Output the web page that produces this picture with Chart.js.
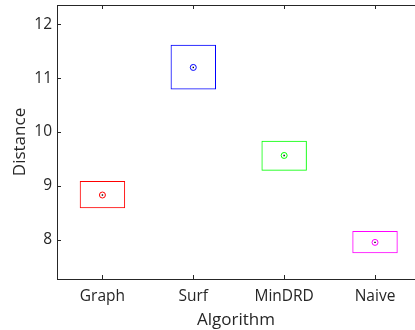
<!DOCTYPE html>
<html>
<head>
<meta charset="utf-8">
<script src="https://cdn.jsdelivr.net/npm/chart.js@4/dist/chart.umd.min.js"></script>
<style>
  html, body { margin: 0; padding: 0; background: #fff; overflow: hidden; }
  #wrap { width: 415px; height: 330px; overflow: hidden; }
</style>
</head>
<body>
<div id="wrap"><canvas id="chart" width="420" height="330"></canvas></div>
<script>
// values
const categories = ['Graph', 'Surf', 'MinDRD', 'Naive'];
const boxLow = [8.585, 10.79, 9.28, 7.75];
const boxHigh = [9.09, 11.62, 9.84, 8.16];
const medians = [8.83, 11.2, 9.565, 7.95];
const colors = ['#ff0000', '#0000ff', '#00ff00', '#ff00ff'];
const yTicks = [8, 9, 10, 11, 12];

const axisColor = '#262626';
const fontFamily = '"Open Sans", "Liberation Sans", Arial, sans-serif';

// MATLAB style: ticks point into the plot, plus a top border line
const inwardTicks = {
    id: 'inwardTicks',
    afterDraw(chart) {
        const { ctx, chartArea, scales } = chart;
        const len = 4;
        ctx.save();
        ctx.strokeStyle = axisColor;
        ctx.lineWidth = 1;
        ctx.beginPath();
        ctx.moveTo(chartArea.left, chartArea.top + 0.5);
        ctx.lineTo(chartArea.right, chartArea.top + 0.5);
        scales.x.ticks.forEach(t => {
            const px = Math.round(scales.x.getPixelForValue(t.value)) + 0.5;
            ctx.moveTo(px, chartArea.bottom);
            ctx.lineTo(px, chartArea.bottom - len);
            ctx.moveTo(px, chartArea.top);
            ctx.lineTo(px, chartArea.top + len);
        });
        scales.y.ticks.forEach(t => {
            const py = Math.round(scales.y.getPixelForValue(t.value)) + 0.5;
            ctx.moveTo(chartArea.left, py);
            ctx.lineTo(chartArea.left + len, py);
        });
        ctx.stroke();
        ctx.restore();
    }
};

const ctx = document.getElementById('chart').getContext('2d');
new Chart(ctx, {
    type: 'bar',
    data: {
        datasets: [
            {
                type: 'bar',
                order: 2,
                data: categories.map((c, i) => ({ x: i + 1, y: [boxLow[i], boxHigh[i]] })),
                backgroundColor: 'rgba(0,0,0,0)',
                borderColor: colors,
                borderWidth: 1,
                borderSkipped: false,
                categoryPercentage: 1,
                barPercentage: 0.5
            },
            {
                type: 'scatter',
                order: 1,
                data: categories.map((c, i) => ({ x: i + 1, y: medians[i] })),
                pointStyle: 'circle',
                pointRadius: 3,
                borderColor: colors,
                backgroundColor: '#ffffff',
                borderWidth: 1
            },
            {
                type: 'scatter',
                order: 0,
                data: categories.map((c, i) => ({ x: i + 1, y: medians[i] })),
                pointStyle: 'rect',
                pointRadius: 1,
                borderWidth: 0,
                backgroundColor: '#000000'
            }
        ]
    },
    options: {
        responsive: false,
        animation: false,
        devicePixelRatio: 1,
        layout: { padding: { top: 5, right: 0, left: 0, bottom: 0 } },
        plugins: {
            legend: { display: false },
            tooltip: { enabled: false }
        },
        scales: {
            x: {
                type: 'linear',
                offset: false,
                min: 0.5,
                max: 4.44,
                afterBuildTicks: s => { s.ticks = categories.map((c, i) => ({ value: i + 1 })); },
                afterFit: s => { s.height = 51; s.paddingLeft = 0; s.paddingRight = 0; },
                grid: { display: true, drawOnChartArea: false, drawTicks: false, offset: false },
                border: { display: true, color: axisColor, width: 1 },
                ticks: {
                    padding: 8,
                    color: axisColor,
                    font: { family: fontFamily, size: 15.5 },
                    maxRotation: 0,
                    callback: v => categories[Math.round(v) - 1]
                },
                title: {
                    display: true,
                    text: 'Algorithm',
                    color: axisColor,
                    font: { family: fontFamily, size: 17 },
                    padding: { top: 0, bottom: 0 }
                }
            },
            y: {
                min: 7.27,
                max: 12.36,
                afterBuildTicks: s => { s.ticks = yTicks.map(v => ({ value: v })); },
                afterFit: s => { s.width = 57; s.paddingTop = 0; s.paddingBottom = 0; },
                grid: { display: true, drawOnChartArea: false, drawTicks: false },
                border: { display: true, color: axisColor, width: 1 },
                ticks: {
                    padding: 5,
                    color: axisColor,
                    font: { family: fontFamily, size: 15.5 }
                },
                title: {
                    display: true,
                    text: 'Distance',
                    color: axisColor,
                    font: { family: fontFamily, size: 17 },
                    padding: { top: 10, bottom: 0 }
                }
            }
        }
    },
    plugins: [inwardTicks]
});
</script>
</body>
</html>
